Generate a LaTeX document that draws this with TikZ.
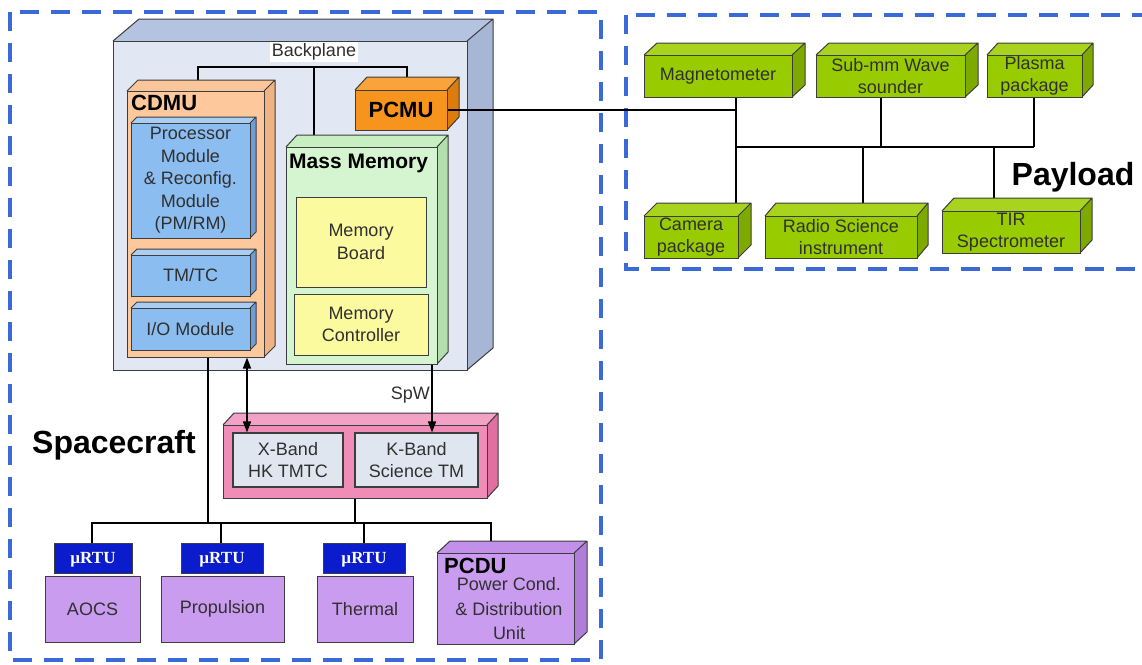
\documentclass[tikz,border=0pt]{standalone}
\usepackage{fontspec}
\setmainfont{Liberation Sans}
\newfontfamily\rtufont{Liberation Serif}
\usetikzlibrary{fit,arrows.meta}
\definecolor{edgec}{HTML}{3D3D3D}
\definecolor{txt}{HTML}{303030}
\definecolor{dashc}{HTML}{3A6AD8}
\definecolor{bpF}{HTML}{E1E7F3}\definecolor{bpT}{HTML}{B4C3DF}\definecolor{bpS}{HTML}{A7B6D4}
\definecolor{cdF}{HTML}{FCC89C}\definecolor{cdT}{HTML}{FAC59A}\definecolor{cdS}{HTML}{F0B484}
\definecolor{blF}{HTML}{8CBDF0}\definecolor{blT}{HTML}{A9CDF3}\definecolor{blS}{HTML}{6C9FD8}
\definecolor{pcF}{HTML}{F7941D}\definecolor{pcT}{HTML}{F9A33A}\definecolor{pcS}{HTML}{DC7C0C}
\definecolor{mmF}{HTML}{D5F5D0}\definecolor{mmT}{HTML}{C8EFC2}\definecolor{mmS}{HTML}{B3DFAE}
\definecolor{pkF}{HTML}{F08CB8}\definecolor{pkT}{HTML}{F3A1C6}\definecolor{pkS}{HTML}{E070A2}
\definecolor{puF}{HTML}{C99CF0}\definecolor{puT}{HTML}{C290EA}\definecolor{puS}{HTML}{B07ED8}
\definecolor{grF}{HTML}{99CC00}\definecolor{grT}{HTML}{A8D420}\definecolor{grS}{HTML}{7EAA00}
\definecolor{yelF}{HTML}{FBFA9F}
\definecolor{innerF}{HTML}{DFE6F0}
\definecolor{rtuF}{HTML}{0A1CCC}
\pgfdeclarelayer{back}\pgfdeclarelayer{wires}
\pgfsetlayers{back,wires,main}
% #1 name, #2 x1, #3 y1, #4 x2, #5 y2, #6 dx, #7 dy, #8 colour prefix, #9 text
\newcommand{\cuboid}[9]{%
  \fill[#8T] (#2,#3) -- (#2+#6,#3-#7) -- (#4+#6,#3-#7) -- (#4,#3) -- cycle;
  \fill[#8S] (#4,#3) -- (#4+#6,#3-#7) -- (#4+#6,#5-#7) -- (#4,#5) -- cycle;
  \draw[faceedge] (#2,#3) -- (#2+#6,#3-#7) -- (#4+#6,#3-#7) -- (#4+#6,#5-#7) -- (#4,#5)
        (#4,#3) -- (#4+#6,#3-#7);
  \path (#2,#3) coordinate (#1-a) (#4,#5) coordinate (#1-b);
  \node[fit=(#1-a)(#1-b), inner sep=0pt, draw=edgec, line width=1pt, fill=#8F] (#1) {};
  \node[boxtext] (#1-t) at (#1.center) {#9};
}
% #1 name, #2 x1, #3 y1, #4 x2, #5 y2, #6 box style, #7 text, #8 text style
\newcommand{\flatbox}[8]{%
  \path (#2,#3) coordinate (#1-a) (#4,#5) coordinate (#1-b);
  \node[fit=(#1-a)(#1-b), inner sep=0pt, #6] (#1) {};
  \node[boxtext, #8] (#1-t) at (#1.center) {#7};
}
\begin{document}
\begin{tikzpicture}[x=1pt,y=-1pt,
  faceedge/.style={draw=edgec, line width=1pt, line join=round},
  boxtext/.style={text=txt, align=center, inner sep=0pt, font=\fontsize{18}{22.5}\selectfont},
  plain/.style={text=txt, align=center, font=\fontsize{18}{22.5}\selectfont, inner sep=1pt},
  title/.style={text=black, font=\bfseries\fontsize{22}{26}\selectfont, inner sep=0pt},
  bigtitle/.style={text=black, font=\bfseries\fontsize{32}{36}\selectfont, inner sep=0pt},
  sysborder/.style={draw=dashc, line width=4pt, dash pattern=on 19pt off 12pt},
  wire/.style={draw=black, line width=2pt},
  arr/.style={draw=black, line width=1.5pt, -{Triangle[length=11pt,width=8pt]}},
  dbl/.style={draw=black, line width=1.5pt, {Triangle[length=11pt,width=8pt]}-{Triangle[length=11pt,width=8pt]}},
  yel/.style={draw=edgec, line width=1pt, fill=yelF},
  innerbox/.style={draw=edgec, line width=1.2pt, fill=innerF},
  rtu/.style={draw=edgec, line width=0.8pt, fill=rtuF},
  rtutext/.style={text=white, text depth=0pt, font=\rtufont\bfseries\fontsize{17}{20}\selectfont},
  purp/.style={draw=edgec, line width=1pt, fill=puF}]
\useasboundingbox (0,0) rectangle (1142,664);

% system borders
\draw[sysborder] (10,12) rectangle (601,660);
\draw[sysborder] (626,15) rectangle (1146,269);

% backplane chassis
\begin{pgfonlayer}{back}
\cuboid{bp}{113}{41}{467}{370}{26}{22}{bp}{}
\end{pgfonlayer}
\node[plain, fill=white, inner sep=2pt] (bplabel) at (314,52) {Backplane};

% CDMU
\cuboid{cdmu}{127}{91}{264}{357}{11}{11}{cd}{}
\node[title, anchor=west] (cdmut) at (131,103) {CDMU};
\cuboid{pm}{131}{123}{250}{238}{6}{6}{bl}{\fontsize{18}{23}\selectfont Processor\\Module\\\& Reconfig.\\Module\\(PM/RM)}
\cuboid{tmtc}{131}{255}{250}{296}{6}{6}{bl}{TM/TC}
\cuboid{io}{131}{308}{250}{350}{6}{6}{bl}{I/O Module}

% PCMU
\cuboid{pcmu}{355}{90}{447}{130}{12}{13}{pc}{\bfseries\fontsize{22}{26}\selectfont\color{black}PCMU}

% Mass memory
\cuboid{mm}{286}{147}{437}{364}{11}{12}{mm}{}
\node[title, font=\bfseries\fontsize{21}{25}\selectfont, anchor=west] (mmt) at (289,163) {Mass Memory};
\flatbox{mb}{296}{197}{426}{287}{yel}{Memory\\Board}{}
\flatbox{mc}{294}{294}{428}{355}{yel}{Memory\\Controller}{}

% Transponders
\cuboid{pink}{223}{425}{487}{498}{11}{12}{pk}{}
\flatbox{xb}{233}{433}{343}{487}{innerbox}{X-Band\\HK TMTC}{}
\flatbox{kb}{355}{433}{478}{487}{innerbox}{K-Band\\Science TM}{}

% platform units
\flatbox{rtuA}{54}{543}{132}{573}{rtu}{µRTU}{rtutext}
\flatbox{rtuP}{181}{543}{263}{573}{rtu}{µRTU}{rtutext}
\flatbox{rtuT}{323}{543}{405}{573}{rtu}{µRTU}{rtutext}
\flatbox{aocs}{45}{576}{140}{642}{purp}{AOCS}{}
\flatbox{prop}{161}{576}{284}{642}{purp}{Propulsion}{}
\flatbox{therm}{317}{576}{413}{642}{purp}{Thermal}{}
\cuboid{pcdu}{437}{553}{574}{644}{13}{12}{pu}{}
\node[title, anchor=west] (pcdut) at (444,566) {PCDU};
\node[plain, font=\fontsize{18}{24.5}\selectfont] (pcdud) at (509,609) {Power Cond.\\\& Distribution\\Unit};

% payload
\cuboid{mag}{644}{55}{792}{97}{13}{12}{gr}{Magnetometer}
\cuboid{sub}{816}{55}{965}{97}{13}{12}{gr}{Sub-mm Wave\\sounder}
\cuboid{pla}{987}{55}{1082}{97}{11}{12}{gr}{Plasma\\package}
\cuboid{cam}{644}{216}{738}{258}{13}{13}{gr}{Camera\\package}
\cuboid{rad}{765}{216}{917}{258}{11}{13}{gr}{Radio Science\\instrument}
\cuboid{tir}{942}{211}{1080}{253}{12}{13}{gr}{TIR\\Spectrometer}

% labels
\node[bigtitle] (sclabel) at (114,445) {Spacecraft};
\node[bigtitle] (pllabel) at (1073,177) {Payload};

% junction coordinates
\coordinate (bpL) at (198,67);
\coordinate (bpM) at (314,67);
\coordinate (bpR) at (407,67);
\coordinate (pj) at (736,110);
\coordinate (pb1) at (736,147);
\coordinate (psub) at (881,147);
\coordinate (pbR) at (1034,147);
\coordinate (prad) at (863,147);
\coordinate (ptir) at (994,147);
\coordinate (busL) at (92,523);
\coordinate (busP) at (221,523);
\coordinate (busT) at (364,523);
\coordinate (busR) at (491,523);
\coordinate (ioX) at (208,523);
\coordinate (ax) at (247,400);
\coordinate (sx) at (432,400);

\begin{pgfonlayer}{wires}
\draw[wire] (bpL |- cdmu.north) -- (bpL) -- (bpR) -- (bpR |- pcmu.north);
\draw[wire] (bpM) -- (bpM |- mm.north);
\draw[wire] (mag.south -| pj) -- (cam.north -| pj);
\draw[wire] (pb1) -- (pbR);
\draw[wire] (psub |- sub.south) -- (psub);
\draw[wire] (pbR |- pla.south) -- (pbR);
\draw[wire] (prad) -- (prad |- rad.north);
\draw[wire] (ptir) -- (ptir |- tir.north);
\draw[wire] (busL |- rtuA.north) -- (busL) -- (busR) -- (busR |- pcdu.north);
\draw[wire] (busP) -- (busP |- rtuP.north);
\draw[wire] (busT) -- (busT |- rtuT.north);
\draw[wire] (pink.south) -- (pink.south |- busL);
\draw[wire] (ioX |- cdmu.south) -- (ioX);
\end{pgfonlayer}

\draw[wire] (pcmu.east) -- (pj);
\draw[dbl] (ax |- cdmu.south) -- (ax |- xb.north);
\draw[arr] (sx |- mm.south) -- (sx |- kb.north);
\node[plain, anchor=east] (spw) at (431,395) {SpW};
\end{tikzpicture}
\end{document}
